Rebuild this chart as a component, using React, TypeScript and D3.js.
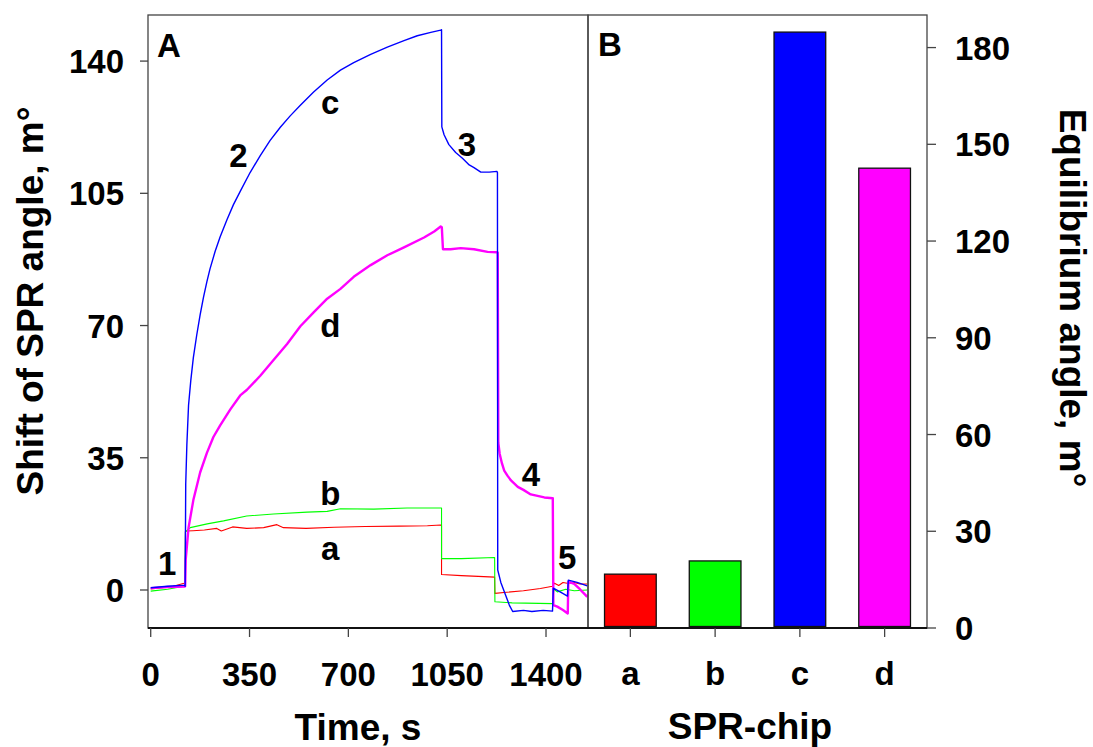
import React from 'react';
import * as d3 from 'd3';

// time (s), shift (m°)
const curveA: [number, number][] = [
  [0, 0.3], [40, 0.6], [80, 1.0], [118, 1.8], [122, 2.0], [123, 15.6], [150, 15.7], [190, 15.9],
  [234, 16.3], [250, 15.6], [290, 16.7], [340, 16.3], [400, 16.5], [447, 17.3], [470, 16.5],
  [550, 16.3], [650, 16.6], [760, 16.8], [880, 16.9], [980, 17.0], [1027, 17.2], [1030, 17.0],
  [1030, 4.1], [1100, 3.8], [1160, 3.6], [1218, 3.4], [1219, -0.9], [1260, -0.6], [1320, -0.2],
  [1380, 0.4], [1423, 1.0], [1430, 1.8], [1445, 1.2], [1460, 2.0], [1480, 1.7], [1500, 2.0],
  [1520, 1.6], [1546, 1.6],
];

const curveB: [number, number][] = [
  [0, -0.3], [60, 0.2], [122, 1.1], [123, 15.4], [140, 16.5], [200, 17.5], [258, 18.3],
  [340, 19.6], [435, 20.1], [554, 20.6], [625, 20.8], [672, 21.5], [790, 21.4], [908, 21.7],
  [1030, 21.7], [1030, 8.3], [1100, 8.3], [1218, 8.6], [1219, -3.1], [1280, -3.4], [1423, -3.6],
  [1428, 0.2], [1440, -0.5], [1470, 0.2], [1500, -0.2], [1546, 0.0],
];

const curveC: [number, number][] = [
  [0, 0.6], [60, 1.0], [121, 1.3], [122, 1.0], [124, 28], [128, 38.4], [134, 48.9], [142, 55.5],
  [151, 61.5], [163, 67.5], [175, 72.8], [187, 77.5], [199, 81.6], [210, 85], [228, 89.6],
  [246, 93.5], [270, 98], [293, 102], [317, 105.5], [352, 110.5], [388, 115], [423, 119],
  [459, 122.5], [494, 125.5], [530, 128.3], [577, 131.8], [625, 135], [672, 137.6], [719, 139.6],
  [779, 141.8], [838, 143.7], [897, 145.4], [944, 146.7], [992, 147.6], [1027, 148.2], [1030, 148.3],
  [1031, 122.6], [1039, 120.5], [1056, 117.9], [1080, 115.8], [1104, 114.3], [1128, 112.5],
  [1145, 111.8], [1169, 110.6], [1199, 110.6], [1226, 110.8], [1228, 110.5], [1229, 5.3],
  [1240, 2], [1255, -1], [1270, -4], [1282, -5.7], [1320, -5.4], [1350, -5.7], [1390, -5.4],
  [1423, -5.6], [1426, 0.5], [1450, -0.5], [1476, -1.6], [1479, 2.6], [1510, 2.0], [1546, 1.1],
];

const curveD: [number, number][] = [
  [0, 0.5], [60, 0.8], [121, 0.9], [122, 1.0], [124, 8.1], [134, 16.5], [151, 23.8], [175, 31.1],
  [199, 36.3], [222, 40.5], [246, 43.6], [282, 47.8], [317, 51.5], [341, 53], [388, 56.7],
  [435, 60.9], [483, 65.1], [530, 69.8], [577, 73.5], [625, 77.1], [672, 79.7], [719, 82.9],
  [779, 86], [838, 88.6], [897, 90.7], [968, 93.3], [1004, 94.9], [1027, 96.2], [1031, 96.0],
  [1035, 90.2], [1062, 90.2], [1098, 90.5], [1145, 90.2], [1193, 89.5], [1226, 89.4],
  [1229, 89.3], [1231, 39], [1236, 36], [1244, 33.5], [1252, 31.6], [1264, 30.2], [1276, 29],
  [1300, 27.3], [1320, 26.5], [1346, 25.3], [1394, 24.5], [1424, 24.3], [1426, -4.0],
  [1440, -4.4], [1460, -5.3], [1477, -6.2], [1479, 2.2], [1500, 1.6], [1520, 0.2], [1546, -1.8],
];

const timeTicks = [0, 350, 700, 1050, 1400];
const shiftTicks = [0, 35, 70, 105, 140];

// panel B
const chips = ['a', 'b', 'c', 'd'];
const equilibrium = [16.7, 20.8, 184.8, 142.6];
const eqTicks = [0, 30, 60, 90, 120, 150, 180];

const colors = ['#ff0000', '#00ff00', '#0000ff', '#ff00ff'];

// little annotation labels in panel A: [text, time, shift]
const notes: [string, number, number][] = [
  ['1', 58, 4], ['2', 311, 112], ['3', 1120, 115], ['4', 1347, 27.5], ['5', 1475, 5.6],
  ['c', 636, 126], ['d', 636, 67], ['b', 636, 22.5], ['a', 636, 7.9],
];

const font = '"Liberation Sans", Arial, sans-serif';

export default function App() {
  const L = 148, M = 588, R = 927, T = 15, B = 628;

  const x = d3.scaleLinear().domain([-9.6, 1548.7]).range([L, M]);
  const y = d3.scaleLinear().domain([-10.06, 152.2]).range([B, T]);
  const xb = d3.scaleBand().domain(chips).range([M, R]).paddingInner(0.39).paddingOuter(0.195);
  const yb = d3.scaleLinear().domain([0, 190.1]).range([B, T]);

  const line = d3.line<[number, number]>().x(d => x(d[0])).y(d => y(d[1]));
  const curves = [curveA, curveB, curveC, curveD];
  const widths = [1.1, 1.1, 1.4, 2.4];

  return (
    <svg width={1093} height={747} style={{ position: 'absolute', left: 0, top: 0, background: '#fff' }}
      fontFamily={font} fontWeight="bold">
      <defs>
        <clipPath id="clipA"><rect x={L} y={T} width={M - L} height={B - T} /></clipPath>
      </defs>

      {/* panel A curves */}
      <g clipPath="url(#clipA)">
        {[0, 1, 3, 2].map(i => (
          <path key={i} d={line(curves[i]) || ''} fill="none" stroke={colors[i]}
            strokeWidth={widths[i]} strokeLinejoin="round" />
        ))}
      </g>

      {/* panel B bars */}
      {chips.map((c, i) => (
        <rect key={c} x={xb(c)} y={yb(equilibrium[i])} width={xb.bandwidth()}
          height={yb(0) - yb(equilibrium[i]) - 1.5} fill={colors[i]} stroke="#111" strokeWidth={1.3} />
      ))}

      {/* frames */}
      <rect x={L} y={T} width={M - L} height={B - T} fill="none" stroke="#444" strokeWidth={1.3} />
      <rect x={M} y={T} width={R - M} height={B - T} fill="none" stroke="#444" strokeWidth={1.3} />
      <line x1={L} x2={R} y1={B} y2={B} stroke="#111" strokeWidth={1.8} />

      {/* left axis */}
      {shiftTicks.map(v => (
        <g key={v}>
          <line x1={L - 8} x2={L} y1={y(v)} y2={y(v)} stroke="#444" strokeWidth={1.3} />
          <text x={124} y={y(v) + 12} textAnchor="end" fontSize={33}>{v}</text>
        </g>
      ))}

      {/* bottom axis A */}
      {timeTicks.map(t => (
        <g key={t}>
          <line x1={x(t)} x2={x(t)} y1={B} y2={B + 9} stroke="#444" strokeWidth={1.3} />
          <text x={x(t)} y={686} textAnchor="middle" fontSize={33}>{t}</text>
        </g>
      ))}

      {/* bottom axis B */}
      {chips.map(c => (
        <g key={c}>
          <line x1={xb(c)! + xb.bandwidth() / 2} x2={xb(c)! + xb.bandwidth() / 2} y1={B} y2={B + 9}
            stroke="#444" strokeWidth={1.3} />
          <text x={xb(c)! + xb.bandwidth() / 2} y={685} textAnchor="middle" fontSize={33}>{c}</text>
        </g>
      ))}

      {/* right axis */}
      {eqTicks.map(v => (
        <g key={v}>
          <line x1={R} x2={R + 9} y1={yb(v)} y2={yb(v)} stroke="#444" strokeWidth={1.3} />
          <text x={955} y={yb(v) + 12} textAnchor="start" fontSize={33}>{v}</text>
        </g>
      ))}

      {/* annotations */}
      <text x={157} y={57} fontSize={33}>A</text>
      <text x={598} y={56} fontSize={33}>B</text>
      {notes.map(([s, t, v]) => (
        <text key={s} x={x(t)} y={y(v)} textAnchor="middle" fontSize={33}>{s}</text>
      ))}

      {/* titles */}
      <text x={358} y={740} textAnchor="middle" fontSize={37}>Time, s</text>
      <text x={750} y={739} textAnchor="middle" fontSize={37}>SPR-chip</text>
      <text transform="translate(43,301) rotate(-90)" textAnchor="middle" fontSize={37}>Shift of SPR angle, m°</text>
      <text transform="translate(1060,298) rotate(90)" textAnchor="middle" fontSize={37}>Equilibrium angle, m°</text>
    </svg>
  );
}
